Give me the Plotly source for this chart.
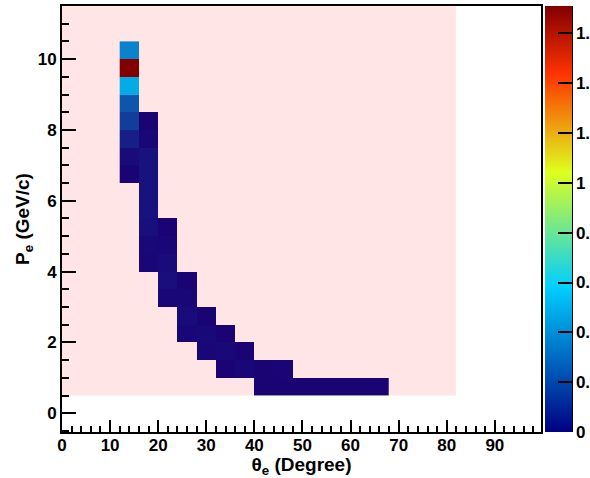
import plotly.graph_objects as go

# Electron momentum vs. polar angle, 4-degree x 0.5 GeV/c bins
theta_centers = [14, 18, 22, 26, 30, 34, 38, 42, 46, 50, 54, 58, 62, 66]
p_centers = [0.75 + 0.5 * i for i in range(20)]

# Filled bins per theta column: {p bin center: content}
col_contents = {
    14: {6.75: 0.01, 7.25: 0.03, 7.75: 0.085, 8.25: 0.17, 8.75: 0.24,
         9.25: 0.48, 9.75: 1.71, 10.25: 0.37},
    18: {4.25: 0.02, 4.75: 0.025, 5.25: 0.04, 5.75: 0.05, 6.25: 0.05,
         6.75: 0.05, 7.25: 0.05, 7.75: 0.02, 8.25: 0.01},
    22: {3.25: 0.02, 3.75: 0.04, 4.25: 0.03, 4.75: 0.02, 5.25: 0.01},
    26: {2.25: 0.02, 2.75: 0.035, 3.25: 0.02, 3.75: 0.01},
    30: {1.75: 0.02, 2.25: 0.025, 2.75: 0.01},
    34: {1.25: 0.01, 1.75: 0.025, 2.25: 0.01},
    38: {1.25: 0.02, 1.75: 0.01},
    42: {0.75: 0.01, 1.25: 0.01},
    46: {0.75: 0.01, 1.25: 0.015},
    50: {0.75: 0.01},
    54: {0.75: 0.01},
    58: {0.75: 0.01},
    62: {0.75: 0.01},
    66: {0.75: 0.01},
}

x_ticks = list(range(0, 100, 10))
y_ticks = list(range(0, 12, 2))
z_ticks = [0, 0.2, 0.4, 0.6, 0.8, 1.0, 1.2, 1.4, 1.6]

# histogram frame area (filled region)
hist_theta_range = [0, 81.9]
hist_p_low = 0.5

z = []
for p in p_centers:
    row = []
    for th in theta_centers:
        row.append(col_contents[th].get(p))
    z.append(row)

zmax = max(v for c in col_contents.values() for v in c.values())

palette_stops = [0.00, 0.34, 0.61, 0.84, 1.00]
palette_cols = ["rgb(0,0,130)", "rgb(0,207,255)", "rgb(222,255,31)",
                "rgb(255,51,0)", "rgb(130,0,0)"]
palette = [[s, c] for s, c in zip(palette_stops, palette_cols)]
# cell fill: same gradient, low end rendered as deep indigo
cell_palette = [[palette_stops[0], "rgb(26,0,114)"]] + palette[1:]

font_family = "Liberation Sans, Arial, Helvetica, sans-serif"
bold = dict(family=font_family, size=17, color="black", weight="bold")

W, H = 590, 478
ML, MR, MT, MB = 62, 49, 6, 46
plot_w = W - ML - MR


def px_to_paper_x(px):
    return (px - ML) / plot_w


fig = go.Figure()
fig.add_trace(go.Heatmap(
    x=theta_centers,
    y=p_centers,
    z=z,
    zmin=0,
    zmax=zmax,
    colorscale=cell_palette,
    hoverongaps=False,
    showscale=False,
))

# palette (colour scale) on the right
fig.add_trace(go.Scatter(
    x=[None], y=[None], mode="markers", hoverinfo="skip", showlegend=False,
    marker=dict(
        color=[0], cmin=0, cmax=zmax, colorscale=palette, showscale=True,
        colorbar=dict(
            x=px_to_paper_x(545),
            xanchor="left",
            xpad=0,
            ypad=0,
            y=0.5,
            yanchor="middle",
            len=1,
            lenmode="fraction",
            thickness=27,
            thicknessmode="pixels",
            outlinewidth=0,
            ticks="inside",
            ticklen=14,
            tickwidth=2,
            tickcolor="black",
            tickvals=z_ticks,
            tickfont=bold,
        ),
    ),
))

# filled histogram area behind the bins
fig.add_shape(type="rect", xref="x", yref="y",
              x0=hist_theta_range[0], x1=hist_theta_range[1],
              y0=hist_p_low, y1=11.5,
              fillcolor="#ffe5e5", line=dict(width=0), layer="below")

# palette axis line on the right of the colour bar
fig.add_shape(type="line", xref="paper", yref="paper",
              x0=px_to_paper_x(572), x1=px_to_paper_x(572), y0=0, y1=1,
              line=dict(color="black", width=2))

axis_common = dict(
    showgrid=False,
    zeroline=False,
    showline=True,
    linecolor="black",
    linewidth=2,
    mirror=True,
    ticks="inside",
    tickcolor="black",
    tickwidth=2,
    tickfont=bold,
)

fig.update_xaxes(
    range=[0, 99.6],
    tickvals=x_ticks,
    ticklen=12,
    ticklabelstandoff=-3,
    minor=dict(dtick=2, ticks="inside", ticklen=6, tickwidth=1.5, tickcolor="black"),
    title=dict(text="θ<sub>e</sub> (Degree)", font=dict(family=font_family, size=19,
                                                         color="black", weight="bold"),
               standoff=0),
    **axis_common,
)
fig.update_yaxes(
    range=[-0.53, 11.5],
    tickvals=y_ticks,
    ticklen=14,
    minor=dict(dtick=0.5, ticks="inside", ticklen=7, tickwidth=1.5, tickcolor="black"),
    title=dict(text="P<sub>e</sub> (GeV/c)", font=dict(family=font_family, size=19,
                                                       color="black", weight="bold"),
               standoff=3),
    **axis_common,
)

fig.update_layout(
    width=W,
    height=H,
    margin=dict(l=ML, r=MR, t=MT, b=MB, autoexpand=False),
    paper_bgcolor="white",
    plot_bgcolor="white",
    showlegend=False,
)

fig.write_html("out.html")
